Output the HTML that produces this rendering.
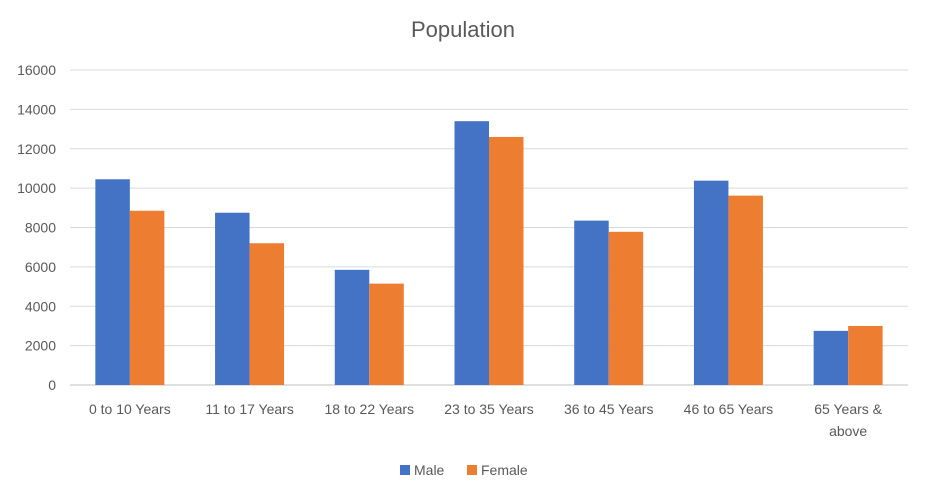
<!DOCTYPE html>
<html><head><meta charset="utf-8"><style>
body{margin:0;background:#fff;}
svg text{font-family:"Liberation Sans",sans-serif;fill:#595959;}
</style></head><body>
<svg id="chart" width="925" height="495" viewBox="0 0 925 495">
<rect width="925" height="495" fill="#fff"/>
<text x="463" y="37" font-size="22" text-anchor="middle">Population</text>
<g id="grid"></g><g id="bars"></g><g id="xlabels"></g>
<g>
<rect x="400" y="465" width="10" height="10" fill="#4472C4"/>
<text x="414" y="475" font-size="14">Male</text>
<rect x="467" y="465" width="10" height="10" fill="#ED7D31"/>
<text x="481" y="475" font-size="14">Female</text>
</g>
</svg>
<script>
const categories=[["0 to 10 Years"],["11 to 17 Years"],["18 to 22 Years"],["23 to 35 Years"],["36 to 45 Years"],["46 to 65 Years"],["65 Years &","above"]];
const male=[10450,8750,5850,13400,8350,10380,2750];
const female=[8850,7200,5150,12600,7780,9620,3000];
const ticks=[0,2000,4000,6000,8000,10000,12000,14000,16000];
const NS="http://www.w3.org/2000/svg";
const x0=70,x1=908,y0=385,y1=70,max=16000;
const y=v=>y0-(v/max)*(y0-y1);
const bw=(x1-x0)/categories.length;
const cx=i=>x0+bw*(i+0.5);
function mk(t,a,p){const e=document.createElementNS(NS,t);for(const k in a)e.setAttribute(k,a[k]);p.appendChild(e);return e;}
const g=document.getElementById('grid');
ticks.forEach(t=>{
 const l=mk('line',{x1:x0,x2:x1,y1:y(t),y2:y(t),stroke:t===0?'#bfbfbf':'#d9d9d9','stroke-width':1},g);
 
 
 const tx=mk('text',{x:56,y:y(t)+5,'font-size':14,'text-anchor':'end'},g);
 tx.textContent=t;
 
 
});
const b=document.getElementById('bars'),xl=document.getElementById('xlabels');
const w=34.5;
categories.forEach((c,i)=>{
 const m=mk('rect',{x:cx(i)-w,y:y(male[i]),width:w,height:y0-y(male[i]),fill:'#4472C4'},b);
 
 
 const f=mk('rect',{x:cx(i),y:y(female[i]),width:w,height:y0-y(female[i]),fill:'#ED7D31'},b);
 
 
 c.forEach((line,j)=>{
  const t=mk('text',{x:cx(i),y:414+j*22,'font-size':14,'text-anchor':'middle'},xl);
  t.textContent=line;
  
  
 });
});
</script>
</body></html>
